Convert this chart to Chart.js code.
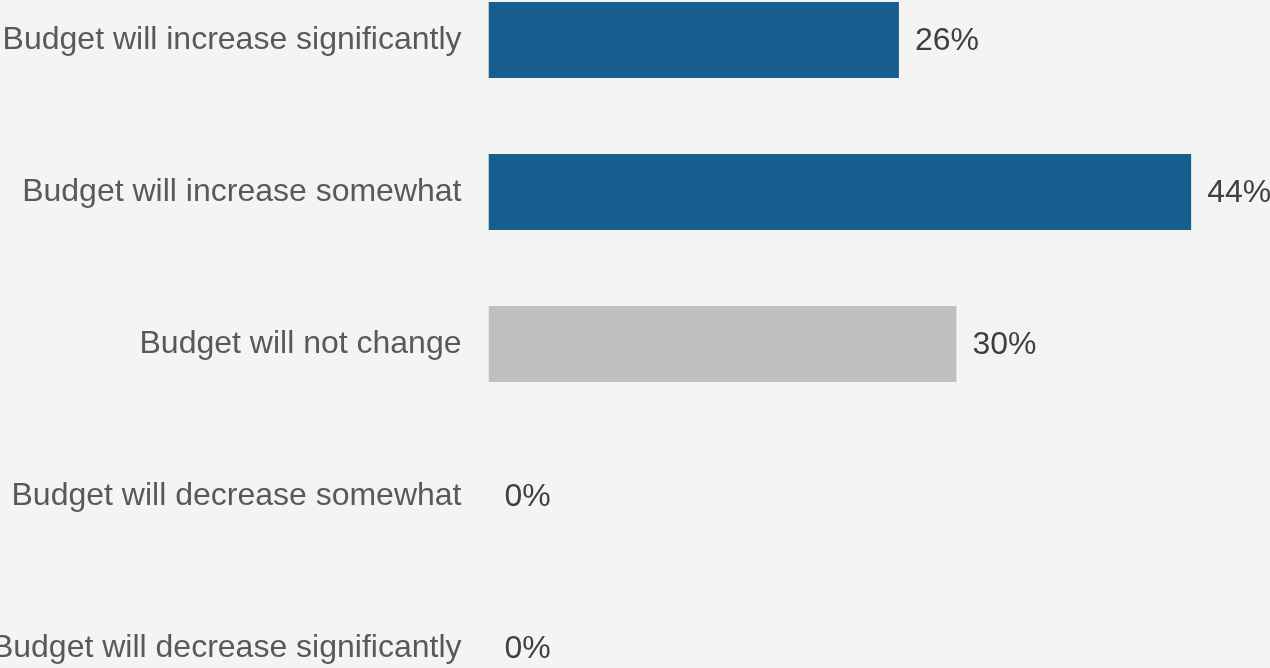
<!DOCTYPE html>
<html>
<head>
<meta charset="utf-8">
<script src="https://cdn.jsdelivr.net/npm/chart.js@4/dist/chart.umd.min.js"></script>
<style>
  html, body { margin: 0; padding: 0; background: #f4f4f4; overflow: hidden; }
  body { width: 1270px; height: 668px; position: relative; }
  #c { position: absolute; left: 0; top: -36px; }
</style>
</head>
<body>
<canvas id="c" width="1270" height="760" style="width:1270px;height:760px;"></canvas>
<script>
const categories = [
  "Budget will increase significantly",
  "Budget will increase somewhat",
  "Budget will not change",
  "Budget will decrease somewhat",
  "Budget will decrease significantly"
];
const values = [25.7, 44.0, 29.3, 0, 0];
const valueLabels = ["26%", "44%", "30%", "0%", "0%"];
const barColors = ["#165e8d", "#165e8d", "#bfbfbf", "#bfbfbf", "#bfbfbf"];

const FONT = "'Liberation Sans', Arial, sans-serif";

const valueLabelPlugin = {
  id: 'valueLabels',
  afterDatasetsDraw(chart) {
    const ctx = chart.ctx;
    const meta = chart.getDatasetMeta(0);
    ctx.save();
    ctx.font = "32px " + FONT;
    ctx.fillStyle = "#404040";
    ctx.textAlign = "left";
    ctx.textBaseline = "middle";
    meta.data.forEach((bar, i) => {
      ctx.fillText(valueLabels[i], bar.x + 16, bar.y + 1);
    });
    ctx.restore();
  }
};

new Chart(document.getElementById('c'), {
  type: 'bar',
  data: {
    labels: categories,
    datasets: [{
      data: values,
      backgroundColor: barColors,
      borderWidth: 0,
      barPercentage: 0.5,
      categoryPercentage: 1.0
    }]
  },
  options: {
    indexAxis: 'y',
    responsive: false,
    devicePixelRatio: 1,
    animation: false,
    layout: { padding: { left: 0, right: 15, top: 0, bottom: 0 } },
    plugins: { legend: { display: false }, tooltip: { enabled: false } },
    scales: {
      x: {
        display: false,
        min: 0,
        max: 48
      },
      y: {
        grid: { display: false, drawTicks: false },
        border: { display: false },
        ticks: {
          padding: 27,
          color: "#595959",
          font: { family: FONT, size: 32 }
        },
        afterFit(scale) {
          scale.width = 488.5;
          scale.paddingTop = 0;
          scale.paddingBottom = 0;
        }
      }
    }
  },
  plugins: [valueLabelPlugin]
});
</script>
</body>
</html>
